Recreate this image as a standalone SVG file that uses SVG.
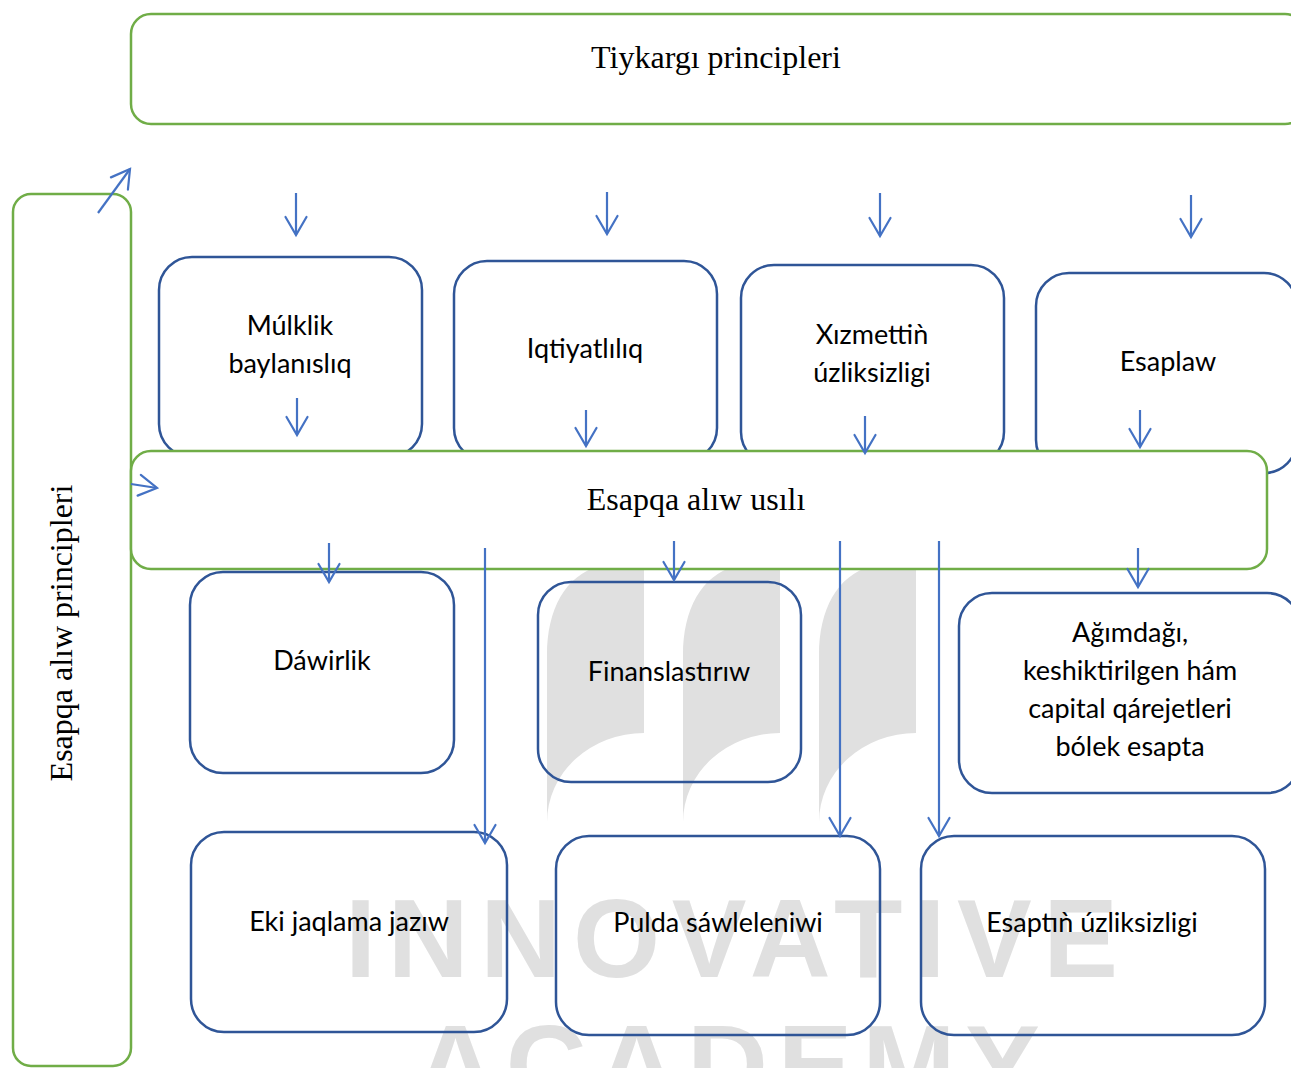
<svg xmlns="http://www.w3.org/2000/svg" width="1291" height="1068" viewBox="0 0 1291 1068">
<style>
.gbox{fill:none;stroke:#70AD47;stroke-width:2.5}
.gboxw{fill:#ffffff;stroke:#70AD47;stroke-width:2.5}
.bbox{fill:none;stroke:#2F5597;stroke-width:2.5}
.lbl{font-family:Lato,"Open Sans","Liberation Sans",sans-serif;font-size:27px;fill:#000;text-anchor:middle}
.ser{font-family:"Liberation Serif","Times New Roman",serif;font-size:32px;fill:#000;text-anchor:middle}
.wm{fill:#e0e0e0}
.wmt{font-family:"Liberation Sans",Arial,sans-serif;font-weight:bold;font-size:112px;fill:#e0e0e0}
.arr{stroke:#4472C4;stroke-width:2.2;fill:none;marker-end:url(#ah)}
</style>
<defs>
<marker id="ah" markerUnits="userSpaceOnUse" viewBox="-22 -14 26 28" markerWidth="26" markerHeight="28" refX="0" refY="0" orient="auto">
<path d="M-18,-10.5 L0,0 L-18,10.5" fill="none" stroke="#4472C4" stroke-width="2.2" stroke-linecap="round" stroke-linejoin="miter"/>
</marker>
<path id="page" d="M547,822 L547,655 C547,610 565,575 600,566 L644,566 L644,733 A97 89 0 0 0 547,822 Z"/>
</defs>
<rect width="1291" height="1068" fill="#ffffff"/>
<g id="watermark">
<use href="#page" class="wm"/>
<use href="#page" class="wm" transform="translate(136,0)"/>
<use href="#page" class="wm" transform="translate(272,0)"/>
<text class="wmt" x="345" y="977" textLength="773" lengthAdjust="spacing">INNOVATIVE</text>
<text class="wmt" x="415" y="1103" textLength="625" lengthAdjust="spacing">ACADEMY</text>
</g>
<g id="n-top">
<rect class="gbox" x="131" y="14" width="1174" height="110" rx="20"/>
<text class="ser" x="716" y="68">Tiykargı principleri</text>
</g>
<g id="n-left">
<rect class="gbox" x="13" y="194" width="118" height="872" rx="18"/>
<text class="ser" transform="translate(72,633) rotate(-90)" x="0" y="0">Esapqa alıw principleri</text>
</g>
<g id="n-mulk">
<rect class="bbox" x="159" y="257" width="263" height="200" rx="33"/>
<text class="lbl" x="290" y="335">Múlklik</text>
<text class="lbl" x="290" y="373">baylanıslıq</text>
</g>
<g id="n-iqt">
<rect class="bbox" x="454" y="261" width="263" height="200" rx="33"/>
<text class="lbl" x="585" y="358">Iqtiyatlılıq</text>
</g>
<g id="n-xiz">
<rect class="bbox" x="741" y="265" width="263" height="200" rx="33"/>
<text class="lbl" x="872" y="344">Xızmettiǹ</text>
<text class="lbl" x="872" y="382">úzliksizligi</text>
</g>
<g id="n-esaplaw">
<rect class="bbox" x="1036" y="273" width="261" height="200" rx="33"/>
<text class="lbl" x="1168" y="371">Esaplaw</text>
</g>
<g id="n-usil">
<rect class="gboxw" x="131" y="451" width="1136" height="118" rx="20"/>
<text class="ser" x="696" y="510">Esapqa alıw usılı</text>
</g>
<g id="n-dawir">
<rect class="bbox" x="190" y="572" width="264" height="201" rx="33"/>
<text class="lbl" x="322" y="670">Dáwirlik</text>
</g>
<g id="n-fin">
<rect class="bbox" x="538" y="582" width="263" height="200" rx="33"/>
<text class="lbl" x="669" y="681">Finanslastırıw</text>
</g>
<g id="n-agim">
<rect class="bbox" x="959" y="593" width="341" height="200" rx="33"/>
<text class="lbl" x="1130" y="642">Ağımdağı,</text>
<text class="lbl" x="1130" y="680">keshiktirilgen hám</text>
<text class="lbl" x="1130" y="718">capital qárejetleri</text>
<text class="lbl" x="1130" y="756">bólek esapta</text>
</g>
<g id="n-eki">
<rect class="bbox" x="191" y="832" width="316" height="200" rx="33"/>
<text class="lbl" x="349" y="931">Eki jaqlama jazıw</text>
</g>
<g id="n-pulda">
<rect class="bbox" x="556" y="836" width="324" height="199" rx="33"/>
<text class="lbl" x="718" y="932">Pulda sáwleleniwi</text>
</g>
<g id="n-esaptin">
<rect class="bbox" x="921" y="836" width="344" height="199" rx="33"/>
<text class="lbl" x="1092" y="932">Esaptıǹ úzliksizligi</text>
</g>
<g id="connectors">
<line class="arr" x1="296" y1="193" x2="296" y2="235"/>
<line class="arr" x1="607" y1="192" x2="607" y2="234"/>
<line class="arr" x1="880" y1="193" x2="880" y2="236"/>
<line class="arr" x1="1191" y1="195" x2="1191" y2="237"/>
<line class="arr" x1="297" y1="398" x2="297" y2="435"/>
<line class="arr" x1="586" y1="410" x2="586" y2="446"/>
<line class="arr" x1="865" y1="416" x2="865" y2="453"/>
<line class="arr" x1="1140" y1="410" x2="1140" y2="447"/>
<line class="arr" x1="329" y1="543" x2="329" y2="582"/>
<line class="arr" x1="674" y1="541" x2="674" y2="580"/>
<line class="arr" x1="1138" y1="548" x2="1138" y2="587"/>
<line class="arr" x1="485" y1="548" x2="485" y2="843"/>
<line class="arr" x1="840" y1="541" x2="840" y2="836"/>
<line class="arr" x1="939" y1="541" x2="939" y2="836"/>
<line class="arr" x1="98" y1="213" x2="130" y2="169"/>
<line class="arr" x1="131" y1="484" x2="157" y2="488"/>
</g>
</svg>
